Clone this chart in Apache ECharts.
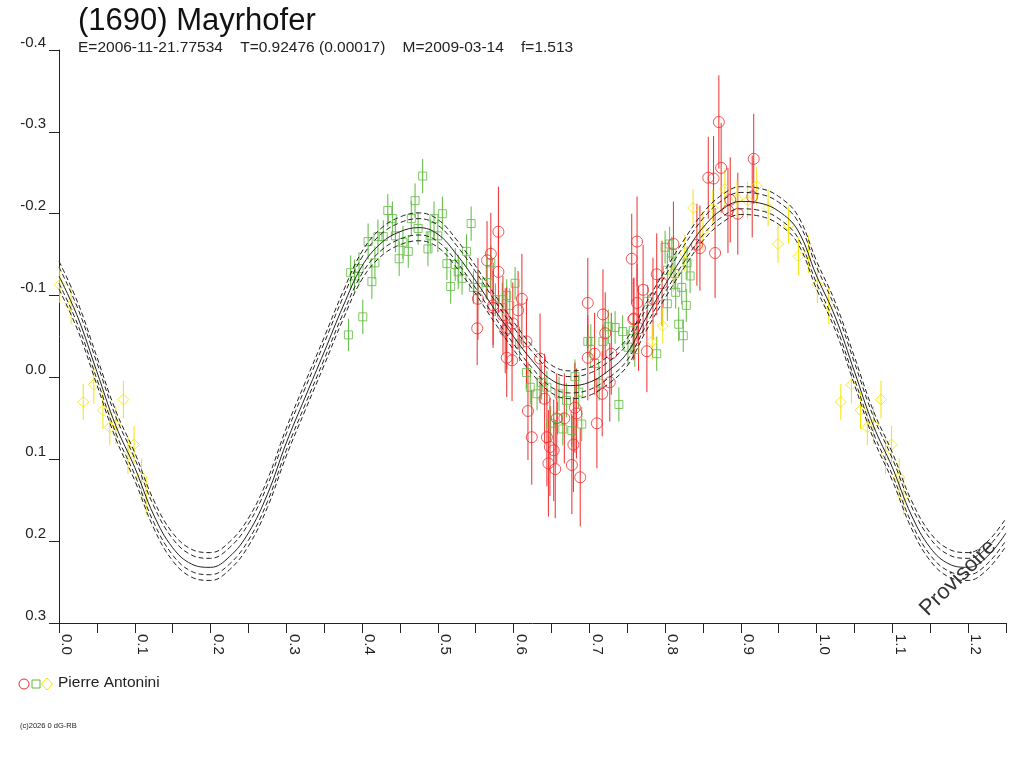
<!DOCTYPE html>
<html lang="fr">
<head>
    <meta charset="UTF-8">
    <title>(1690) Mayrhofer</title>
</head>
<body style="margin: 0">
<div id="container" style="height: 768px; width: 1024px;"></div>
<script type="text/javascript" src="https://cdn.jsdelivr.net/npm/echarts@6.0.0/dist/echarts.min.js"></script>
<script type="text/javascript">
    // fitted curve, phase 0 .. 1 step 0.025
    const fitPhase = [0.000, 0.025, 0.050, 0.075, 0.100, 0.125, 0.150, 0.175, 0.200, 0.225,
        0.250, 0.275, 0.300, 0.325, 0.350, 0.375, 0.400, 0.425, 0.450, 0.475,
        0.500, 0.525, 0.550, 0.575, 0.600, 0.625, 0.650, 0.675, 0.700, 0.725,
        0.750, 0.775, 0.800, 0.825, 0.850, 0.875, 0.900, 0.925, 0.950, 0.975, 1.000];
    const fitMag = [-0.124, -0.073, -0.007, 0.059, 0.110, 0.168, 0.208, 0.228, 0.232, 0.219,
        0.190, 0.143, 0.080, 0.024, -0.031, -0.087, -0.136, -0.164, -0.178, -0.183,
        -0.175, -0.150, -0.118, -0.083, -0.050, -0.020, 0.003, 0.010, 0.006, -0.008,
        -0.030, -0.073, -0.113, -0.150, -0.183, -0.205, -0.215, -0.213, -0.203, -0.180, -0.124];
    const fitUpperOuter = [-0.142, -0.091, -0.025, 0.041, 0.092, 0.150, 0.190, 0.210, 0.214, 0.201,
        0.172, 0.125, 0.062, 0.006, -0.049, -0.105, -0.154, -0.182, -0.196, -0.201,
        -0.193, -0.168, -0.136, -0.101, -0.068, -0.038, -0.015, -0.008, -0.012, -0.026,
        -0.048, -0.091, -0.131, -0.168, -0.201, -0.223, -0.233, -0.231, -0.221, -0.198, -0.142];
    const fitUpperInner = [-0.135, -0.084, -0.018, 0.048, 0.099, 0.157, 0.197, 0.217, 0.221, 0.208,
        0.179, 0.132, 0.069, 0.013, -0.042, -0.098, -0.147, -0.175, -0.189, -0.194,
        -0.186, -0.161, -0.129, -0.094, -0.061, -0.031, -0.008, -0.001, -0.005, -0.019,
        -0.041, -0.084, -0.124, -0.161, -0.194, -0.216, -0.226, -0.224, -0.214, -0.191, -0.135];
    const fitLowerInner = [-0.115, -0.064, 0.002, 0.068, 0.119, 0.177, 0.217, 0.237, 0.241, 0.228,
        0.199, 0.152, 0.089, 0.033, -0.022, -0.078, -0.127, -0.155, -0.169, -0.174,
        -0.166, -0.141, -0.109, -0.074, -0.041, -0.011, 0.012, 0.019, 0.015, 0.001,
        -0.021, -0.064, -0.104, -0.141, -0.174, -0.196, -0.206, -0.204, -0.194, -0.171, -0.115];
    const fitLowerOuter = [-0.108, -0.057, 0.009, 0.075, 0.126, 0.184, 0.224, 0.244, 0.248, 0.235,
        0.206, 0.159, 0.096, 0.040, -0.015, -0.071, -0.120, -0.148, -0.162, -0.167,
        -0.159, -0.134, -0.102, -0.067, -0.034, -0.004, 0.019, 0.026, 0.022, 0.008,
        -0.014, -0.057, -0.097, -0.134, -0.167, -0.189, -0.199, -0.197, -0.187, -0.164, -0.108];

    // observations [phase, magnitude, error]
    const redObs = [
        [0.580, -0.178, 0.055], [0.570, -0.151, 0.050], [0.565, -0.143, 0.048], [0.580, -0.129, 0.050],
        [0.552, -0.060, 0.045], [0.553, -0.096, 0.050], [0.573, -0.088, 0.052], [0.586, -0.076, 0.048],
        [0.611, -0.096, 0.055], [0.599, -0.066, 0.050], [0.606, -0.082, 0.048], [0.589, -0.057, 0.052],
        [0.573, -0.085, 0.045], [0.591, -0.060, 0.050], [0.617, -0.044, 0.052], [0.591, -0.024, 0.048],
        [0.598, -0.021, 0.050], [0.635, -0.023, 0.055], [0.619, 0.041, 0.060], [0.624, 0.073, 0.058],
        [0.641, 0.026, 0.055], [0.644, 0.073, 0.060], [0.646, 0.105, 0.065], [0.648, 0.085, 0.060],
        [0.653, 0.089, 0.062], [0.655, 0.112, 0.060], [0.657, 0.050, 0.055], [0.667, 0.050, 0.055],
        [0.677, 0.107, 0.060], [0.679, 0.082, 0.058], [0.681, 0.037, 0.055], [0.683, 0.044, 0.055],
        [0.688, 0.122, 0.060], [0.698, -0.091, 0.055], [0.698, -0.024, 0.052], [0.710, 0.056, 0.055],
        [0.707, -0.029, 0.050], [0.718, -0.077, 0.055], [0.721, -0.054, 0.050], [0.717, 0.020, 0.052],
        [0.729, -0.029, 0.050], [0.727, 0.006, 0.048], [0.756, -0.145, 0.055], [0.758, -0.071, 0.050],
        [0.763, -0.166, 0.055], [0.871, -0.312, 0.057], [0.917, -0.267, 0.055], [0.857, -0.244, 0.050],
        [0.864, -0.243, 0.052], [0.874, -0.256, 0.055], [0.771, -0.107, 0.055], [0.789, -0.126, 0.050],
        [0.796, -0.115, 0.052], [0.811, -0.163, 0.052], [0.784, -0.096, 0.050], [0.763, -0.091, 0.048],
        [0.759, -0.072, 0.050], [0.765, -0.060, 0.052], [0.776, -0.032, 0.050], [0.842, -0.162, 0.050],
        [0.846, -0.158, 0.052], [0.866, -0.152, 0.055], [0.883, -0.204, 0.052], [0.896, -0.200, 0.050],
        [0.915, -0.221, 0.050], [0.886, -0.217, 0.052]
    ];
    const greenObs = [
        [0.382, -0.052, 0.020], [0.401, -0.074, 0.021], [0.385, -0.128, 0.021], [0.390, -0.124, 0.020],
        [0.396, -0.133, 0.020], [0.413, -0.117, 0.021], [0.408, -0.166, 0.022], [0.417, -0.140, 0.020],
        [0.421, -0.172, 0.021], [0.428, -0.172, 0.020], [0.434, -0.204, 0.020], [0.440, -0.194, 0.021],
        [0.444, -0.173, 0.020], [0.449, -0.145, 0.021], [0.454, -0.165, 0.020], [0.461, -0.154, 0.020],
        [0.465, -0.194, 0.021], [0.470, -0.216, 0.021], [0.474, -0.182, 0.020], [0.480, -0.246, 0.021],
        [0.487, -0.157, 0.021], [0.490, -0.173, 0.020], [0.495, -0.194, 0.021], [0.500, -0.173, 0.020],
        [0.506, -0.200, 0.021], [0.512, -0.139, 0.020], [0.517, -0.111, 0.021], [0.523, -0.138, 0.020],
        [0.527, -0.129, 0.021], [0.532, -0.121, 0.020], [0.538, -0.154, 0.021], [0.544, -0.188, 0.021],
        [0.547, -0.110, 0.020], [0.553, -0.110, 0.021], [0.564, -0.116, 0.020], [0.570, -0.140, 0.021],
        [0.576, -0.095, 0.020], [0.585, -0.095, 0.021], [0.591, -0.100, 0.020], [0.595, -0.088, 0.021],
        [0.602, -0.115, 0.020], [0.608, -0.041, 0.021], [0.617, -0.006, 0.020], [0.622, 0.012, 0.021],
        [0.631, 0.020, 0.020], [0.637, 0.006, 0.021], [0.644, 0.012, 0.020], [0.649, 0.056, 0.021],
        [0.658, 0.050, 0.020], [0.660, 0.020, 0.021], [0.665, 0.063, 0.020], [0.670, 0.028, 0.021],
        [0.677, 0.065, 0.020], [0.681, -0.001, 0.021], [0.686, 0.018, 0.020], [0.690, 0.057, 0.021],
        [0.698, -0.044, 0.020], [0.702, -0.044, 0.021], [0.707, -0.017, 0.020], [0.713, 0.007, 0.021],
        [0.718, -0.044, 0.020], [0.725, -0.062, 0.021], [0.734, -0.061, 0.020], [0.739, 0.033, 0.021],
        [0.744, -0.056, 0.020], [0.751, -0.037, 0.021], [0.758, -0.057, 0.020], [0.760, -0.034, 0.021],
        [0.777, -0.093, 0.020], [0.789, -0.029, 0.021], [0.800, -0.159, 0.020], [0.806, -0.163, 0.021],
        [0.809, -0.152, 0.020], [0.803, -0.131, 0.021], [0.813, -0.127, 0.020], [0.822, -0.110, 0.021],
        [0.829, -0.140, 0.020], [0.833, -0.124, 0.021], [0.814, -0.104, 0.020], [0.803, -0.090, 0.021],
        [0.828, -0.088, 0.020], [0.818, -0.065, 0.021], [0.824, -0.051, 0.020]
    ];
    const yellowObs = [
        [0.001, -0.113, 0.022], [0.016, -0.088, 0.023], [0.032, 0.030, 0.022], [0.046, 0.009, 0.023],
        [0.058, 0.040, 0.023], [0.067, 0.061, 0.022], [0.075, 0.058, 0.023], [0.085, 0.027, 0.023],
        [0.091, 0.095, 0.023], [0.099, 0.082, 0.023], [0.109, 0.122, 0.023], [0.115, 0.145, 0.023],
        [0.783, -0.044, 0.022], [0.797, -0.063, 0.022], [0.811, -0.127, 0.022], [0.826, -0.152, 0.022],
        [0.837, -0.207, 0.023], [0.850, -0.179, 0.023], [0.863, -0.207, 0.023], [0.879, -0.230, 0.024],
        [0.895, -0.218, 0.023], [0.909, -0.216, 0.023], [0.921, -0.234, 0.023], [0.936, -0.207, 0.022],
        [0.949, -0.163, 0.023], [0.963, -0.186, 0.023], [0.976, -0.148, 0.023], [0.989, -0.150, 0.023]
    ];

    const xTicks = ['0.0', '0.1', '0.2', '0.3', '0.4', '0.5', '0.6', '0.7', '0.8', '0.9', '1.0', '1.1', '1.2'];
    const subtitle = 'E=2006-11-21.77534    T=0.92476 (0.00017)    M=2009-03-14    f=1.513';

    const RED = '#f02c2c', GREEN = '#5cba3c', YELLOW = '#f5e400';
    const FONT = '"Liberation Sans", Arial, sans-serif';
    const PHASE_END = 1.25;

    // the plot repeats phases 0 .. 0.25 after 1.0
    function wrapObs(obs) {
        const out = obs.slice();
        obs.forEach(function (o) {
            if (o[0] + 1 <= PHASE_END) out.push([o[0] + 1, o[1], o[2]]);
        });
        return out;
    }

    function wrapCurve(mags) {
        const out = [];
        fitPhase.forEach(function (p, i) { out.push([p, mags[i]]); });
        fitPhase.forEach(function (p, i) {
            if (p > 0 && p + 1 <= PHASE_END) out.push([p + 1, mags[i]]);
        });
        return out;
    }

    function curveSeries(mags, dashed) {
        return {
            type: 'line',
            data: wrapCurve(mags),
            smooth: 0.4,
            showSymbol: false,
            silent: true,
            z: 5,
            lineStyle: {color: '#222', width: 1, type: dashed ? [5, 3] : 'solid'}
        };
    }

    function errorSeries(obs, color, z) {
        return {
            type: 'custom',
            data: wrapObs(obs),
            encode: {x: 0, y: 1},
            silent: true,
            z: z,
            renderItem: function (params, api) {
                const p1 = api.coord([api.value(0), api.value(1) - api.value(2)]);
                const p2 = api.coord([api.value(0), api.value(1) + api.value(2)]);
                return {
                    type: 'line',
                    shape: {x1: p1[0], y1: p1[1], x2: p2[0], y2: p2[1]},
                    style: {stroke: color, lineWidth: 1}
                };
            }
        };
    }

    function symbolSeries(obs, color, symbol, size, z) {
        return {
            type: 'scatter',
            data: wrapObs(obs),
            symbol: symbol,
            symbolSize: size,
            silent: true,
            z: z,
            itemStyle: {color: 'rgba(0,0,0,0)', borderColor: color, borderWidth: 1}
        };
    }

    const dom = document.getElementById('container');
    const myChart = echarts.init(dom);

    const option = {
        backgroundColor: '#fff',
        animation: false,
        grid: {left: 59, right: 18, top: 50, bottom: 145},
        xAxis: {
            type: 'value',
            min: 0,
            max: PHASE_END,
            interval: 0.05,
            splitLine: {show: false},
            axisLine: {onZero: false, lineStyle: {color: '#222'}},
            axisTick: {length: 10, lineStyle: {color: '#222'}},
            axisLabel: {
                rotate: -90,
                margin: 11,
                verticalAlign: 'bottom',
                color: '#222',
                fontFamily: FONT,
                fontSize: 15,
                formatter: function (v) {
                    const k = Math.round(v * 20);
                    return k % 2 === 0 ? (xTicks[k / 2] || '') : '';
                }
            }
        },
        yAxis: {
            type: 'value',
            inverse: true,
            min: -0.4,
            max: 0.3,
            interval: 0.1,
            splitLine: {show: false},
            axisLine: {lineStyle: {color: '#222'}},
            axisTick: {length: 10, lineStyle: {color: '#222'}},
            axisLabel: {
                margin: 13,
                verticalAlign: 'bottom',
                color: '#222',
                fontFamily: FONT,
                fontSize: 15,
                formatter: function (v) {
                    return Math.abs(v) < 1e-9 ? '0.0' : v.toFixed(1);
                }
            }
        },
        graphic: [
            {type: 'text', left: 78, top: 6, style: {text: '(1690) Mayrhofer', fontSize: 31, fontFamily: FONT, fill: '#111'}},
            {type: 'text', left: 78, top: 40, style: {text: subtitle, fontSize: 15.5, fontFamily: FONT, fill: '#222'}},
            {type: 'circle', shape: {cx: 24, cy: 684, r: 5}, style: {fill: 'none', stroke: RED, lineWidth: 1}},
            {type: 'rect', shape: {x: 32, y: 680, width: 8, height: 8}, style: {fill: 'none', stroke: GREEN, lineWidth: 1}},
            {type: 'polygon', shape: {points: [[47, 678], [52.5, 684], [47, 690], [41.5, 684]]}, style: {fill: 'none', stroke: YELLOW, lineWidth: 1}},
            {type: 'text', left: 58, top: 675, style: {text: 'Pierre Antonini', fontSize: 15.5, fontFamily: FONT, fill: '#222'}},
            {type: 'text', left: 20, top: 722, style: {text: '(c)2026 0 dG-RB', fontSize: 7.5, fontFamily: FONT, fill: '#222'}},
            {
                type: 'text', x: 958, y: 578, rotation: Math.PI / 4, z: 10,
                style: {text: 'Provisoire', fontSize: 22, fontFamily: FONT, fill: '#333', align: 'center', verticalAlign: 'middle'}
            }
        ],
        series: [
            errorSeries(greenObs, GREEN, 2),
            symbolSeries(greenObs, GREEN, 'rect', 8, 3),
            errorSeries(redObs, RED, 2),
            symbolSeries(redObs, RED, 'circle', 11, 3),
            errorSeries(yellowObs, YELLOW, 2),
            symbolSeries(yellowObs, YELLOW, 'diamond', 11, 3),
            curveSeries(fitUpperOuter, true),
            curveSeries(fitUpperInner, true),
            curveSeries(fitMag, false),
            curveSeries(fitLowerInner, true),
            curveSeries(fitLowerOuter, true)
        ]
    };
    myChart.setOption(option);
</script>
</body>
</html>
